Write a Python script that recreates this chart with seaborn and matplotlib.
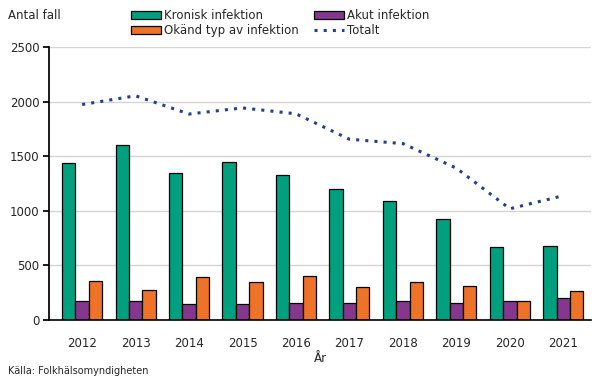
import numpy as np
import pandas as pd
import matplotlib
matplotlib.use("Agg")
import matplotlib.pyplot as plt
import seaborn as sns
from matplotlib.patches import Patch
from matplotlib.lines import Line2D

years = ["2012", "2013", "2014", "2015", "2016", "2017", "2018", "2019", "2020", "2021"]
kronisk = [1438, 1603, 1346, 1447, 1328, 1200, 1090, 925, 668, 678]
akut = [175, 175, 145, 145, 155, 155, 175, 155, 175, 200]
okand = [360, 275, 395, 350, 405, 300, 350, 310, 175, 260]
totalt = [1973, 2053, 1886, 1942, 1888, 1655, 1615, 1390, 1018, 1138]

series = ["Kronisk infektion", "Akut infektion", "Okänd typ av infektion"]
colors = ["#00A07E", "#84378D", "#EE7228"]
line_color = "#253E8E"

df = pd.DataFrame({
    "År": years * 3,
    "Typ": [series[0]] * 10 + [series[1]] * 10 + [series[2]] * 10,
    "Antal": kronisk + akut + okand,
})

sns.set_theme(style="white")
plt.rcParams["font.family"] = ["DejaVu Sans"]

fig = plt.figure(figsize=(6.05, 3.79), dpi=100)
ax = fig.add_axes([0.081, 0.156, 0.896, 0.72])

sns.barplot(data=df, x="År", y="Antal", hue="Typ", hue_order=series,
            palette=colors, width=0.75, edgecolor="black", linewidth=0.9,
            ax=ax, legend=False, saturation=1)
ax.plot(np.arange(len(years)), totalt, linestyle=(0, (1, 2.0)), linewidth=2.2,
        color=line_color, zorder=3)

ax.set_ylim(0, 2500)
ax.set_xlim(-0.62, 9.52)
ax.set_yticks(range(0, 2501, 500))
ax.yaxis.grid(True, color="#d4d4d4", linewidth=1)
ax.set_axisbelow(True)
for s in ["top", "right"]:
    ax.spines[s].set_visible(False)
ax.spines["left"].set_color("black")
ax.spines["bottom"].set_color("black")
ax.spines["bottom"].set_linewidth(1.2)
ax.tick_params(axis="y", left=True, length=4, color="black", labelsize=8.5, pad=3)
ax.tick_params(axis="x", bottom=False, labelsize=8.5, pad=6)
ax.set_ylabel("")
ax.set_xlabel("År", fontsize=8.5, labelpad=2)

fig.text(0.013, 0.958, "Antal fall", fontsize=8.5, va="center")
fig.text(0.013, 0.022, "Källa: Folkhälsomyndigheten", fontsize=7, va="center")

handles = [
    Patch(facecolor=colors[0], edgecolor="black", linewidth=0.9),
    Patch(facecolor=colors[2], edgecolor="black", linewidth=0.9),
    Patch(facecolor=colors[1], edgecolor="black", linewidth=0.9),
    Line2D([0], [0], color=line_color, linestyle=(0, (1, 2.0)), linewidth=2.2),
]
labels = ["Kronisk infektion", "Okänd typ av infektion", "Akut infektion", "Totalt"]
fig.legend(handles, labels, ncol=2, loc="upper left", bbox_to_anchor=(0.203, 0.998),
           frameon=False, fontsize=8.5, handlelength=2.5, handleheight=0.7,
           handletextpad=0.25, columnspacing=1.35, labelspacing=0.15, borderpad=0.2)

fig.savefig("out.png", dpi=100)
